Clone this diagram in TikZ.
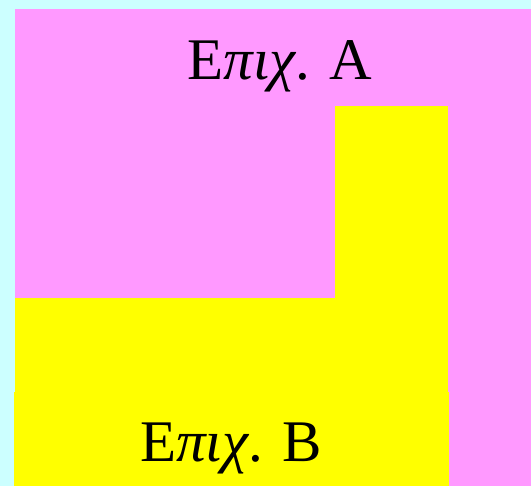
\documentclass[tikz,border=0pt]{standalone}
\usepackage{fontspec}
\setmainfont{Liberation Serif}
\definecolor{bgcyan}{RGB}{204,255,255}
\definecolor{pinkA}{RGB}{255,153,255}
\definecolor{yellowB}{RGB}{255,255,0}
\begin{document}
\begin{tikzpicture}[x=1pt,y=1pt,
  label/.style={anchor=base,inner sep=0pt,font=\fontsize{59}{60}\selectfont}]
\fill[bgcyan] (0,0) rectangle (531,486);
\useasboundingbox (0,0) rectangle (531,486);
% area A
\fill[pinkA] (15,0) rectangle (531,477);
% area B
\fill[yellowB] (335,93) rectangle (448,380);
\fill[yellowB] (15,93) rectangle (448,188);
\fill[yellowB] (14,0) rectangle (449,93.5);
\node[label] (labA) at (280,406) {Ε\textit{πιχ}. A};
\node[label] (labB) at (231,24) {Ε\textit{πιχ}. B};
\end{tikzpicture}
\end{document}
